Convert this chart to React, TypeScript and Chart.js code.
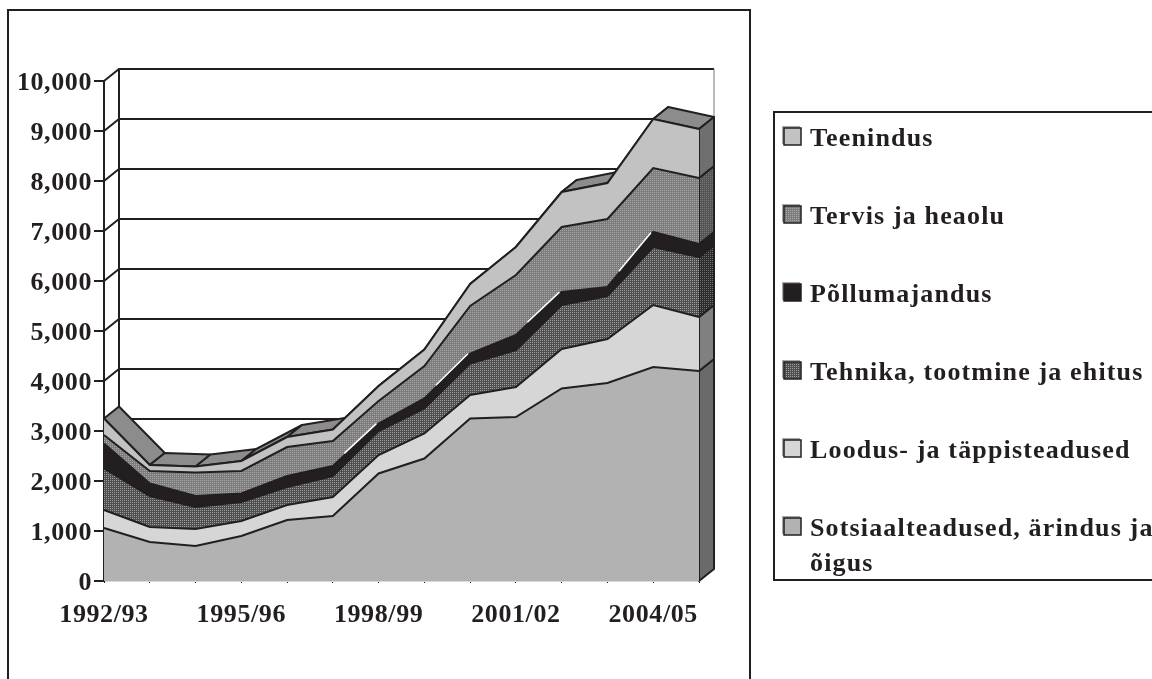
import React, { useEffect, useRef } from "react";
import { Chart, registerables } from "chart.js";

Chart.register(...registerables);

const years = ["1992/93","1993/94","1994/95","1995/96","1996/97","1997/98","1998/99","1999/00","2000/01","2001/02","2002/03","2003/04","2004/05","2005/06"];
const shownYears = ["1992/93","1995/96","1998/99","2001/02","2004/05"];
const sotsiaal = [1060,780,700,900,1220,1300,2150,2450,3250,3280,3850,3960,4280,4200];
const loodus = [360,300,340,300,300,380,370,500,470,600,790,880,1240,1080];
const tehnika = [830,620,440,380,360,420,480,500,630,740,880,860,1160,1200];
const pollumajandus = [500,250,220,170,220,200,150,200,200,300,260,180,300,260];
const tervis = [170,250,470,450,580,500,450,650,950,1200,1300,1360,1280,1320];
const teenindus = [330,120,120,200,200,230,300,330,440,560,700,720,980,980];

const C = {
  ink: "#231f20", top: "#8c8c8c", sots: "#b2b2b2", lood: "#d6d6d6", tee: "#c2c2c2",
};

function dots(dark: string, light: string, ctx: CanvasRenderingContext2D) {
  const c = document.createElement("canvas");
  c.width = 2; c.height = 2;
  const g = c.getContext("2d")!;
  g.fillStyle = dark; g.fillRect(0, 0, 2, 2);
  g.fillStyle = light; g.fillRect(0, 0, 1, 1);
  return ctx.createPattern(c, "repeat")!;
}

const DX = 15, DY = -12;

function poly(ctx: CanvasRenderingContext2D, pts: number[][], fill: any, stroke = true, lw = 2) {
  ctx.beginPath();
  pts.forEach((p, i) => (i ? ctx.lineTo(p[0], p[1]) : ctx.moveTo(p[0], p[1])));
  ctx.closePath();
  if (fill) { ctx.fillStyle = fill; ctx.fill(); }
  if (stroke) { ctx.strokeStyle = C.ink; ctx.lineWidth = lw; ctx.lineJoin = "round"; ctx.stroke(); }
}

const depth = {
  id: "depth",
  beforeDraw(chart: any) { chart.ctx.letterSpacing = "0.6px"; },
  beforeDatasetsDraw(chart: any) {
    const { ctx, scales: { x, y } } = chart;
    const l = x.left, r = x.right, b = y.getPixelForValue(0), t = y.getPixelForValue(10000);
    ctx.save();
    ctx.strokeStyle = C.ink; ctx.lineWidth = 2;
    y.ticks.forEach((tk: any) => {
      const p = y.getPixelForValue(tk.value);
      ctx.beginPath(); ctx.moveTo(l, p); ctx.lineTo(l + DX, p + DY); ctx.lineTo(r + DX, p + DY); ctx.stroke();
    });
    ctx.beginPath(); ctx.moveTo(l + DX, b + DY); ctx.lineTo(l + DX, t + DY); ctx.stroke();
    ctx.strokeStyle = "#777"; ctx.lineWidth = 1;
    ctx.beginPath(); ctx.moveTo(r + DX, t + DY); ctx.lineTo(r + DX, b + DY); ctx.stroke();

    const metas = chart.data.datasets.map((_: any, i: number) => chart.getDatasetMeta(i).data);
    const topRow = metas[metas.length - 1];
    for (let i = 0; i < topRow.length - 1; i++) {
      const a = topRow[i], c = topRow[i + 1];
      poly(ctx, [[a.x, a.y], [c.x, c.y], [c.x + DX, c.y + DY], [a.x + DX, a.y + DY]], C.top);
    }
    const sides = ["#6a6a6a", "#808080", dots("#2c2c2c", "#6e6e6e", ctx), C.ink, dots("#555", "#777", ctx), "#6f6f6f"];
    metas.forEach((row: any[], i: number) => {
      const p = row[row.length - 1];
      const lowY = i ? metas[i - 1][row.length - 1].y : b;
      poly(ctx, [[p.x, lowY], [p.x, p.y], [p.x + DX, p.y + DY], [p.x + DX, lowY + DY]], sides[i]);
    });
    ctx.restore();
  },
  afterDatasetsDraw(chart: any) {
    const { ctx } = chart;
    const row = chart.getDatasetMeta(3).data;
    ctx.save();
    ctx.strokeStyle = "#fff"; ctx.lineWidth = 1.5;
    for (let i = 0; i < row.length - 1; i++) {
      const a = row[i], c = row[i + 1];
      if (a.y - c.y >= 40) {
        ctx.beginPath();
        ctx.moveTo(a.x + (c.x - a.x) * 0.25, a.y + (c.y - a.y) * 0.25 - 2);
        ctx.lineTo(a.x + (c.x - a.x) * 0.95, a.y + (c.y - a.y) * 0.95 - 2);
        ctx.stroke();
      }
    }
    ctx.restore();
  },
  afterDraw(chart: any) {
    const { ctx } = chart;
    ctx.save();
    ctx.strokeStyle = C.ink; ctx.lineWidth = 2;
    ctx.strokeRect(8, 10, 742, 700);
    ctx.strokeRect(774, 112, 420, 468);
    ctx.font = "bold 26px 'Liberation Serif'";
    ctx.letterSpacing = "1.15px";
    ctx.textBaseline = "middle";
    ctx.textAlign = "left";
    const rows = [...chart.data.datasets].reverse();
    rows.forEach((d: any, i: number) => {
      const cy = 137 + i * 78;
      ctx.fillStyle = "#a8a8a8";
      ctx.fillRect(782, cy - 11, 18, 18);
      ctx.fillStyle = d.backgroundColor;
      ctx.fillRect(784, cy - 9, 17, 17);
      ctx.strokeStyle = C.ink; ctx.lineWidth = 1.5;
      ctx.strokeRect(784, cy - 9, 17, 17);
      ctx.fillStyle = C.ink;
      const lines = String(d.label).split("|");
      lines.forEach((s: string, k: number) => ctx.fillText(s, 810, cy + 2 + k * 35));
    });
    ctx.restore();
  },
};

const seriesNames = ["Sotsiaalteadused, ärindus ja|õigus", "Loodus- ja täppisteadused", "Tehnika, tootmine ja ehitus", "Põllumajandus", "Tervis ja heaolu", "Teenindus"];

export default function App() {
  const ref = useRef<HTMLCanvasElement>(null);
  useEffect(() => {
    const ctx = ref.current!.getContext("2d")!;
    const fills: any[] = [C.sots, C.lood, dots("#4e4e4e", "#a0a0a0", ctx), C.ink, dots("#7c7c7c", "#a8a8a8", ctx), C.tee];
    const values = [sotsiaal, loodus, tehnika, pollumajandus, tervis, teenindus];
    const chart = new Chart(ctx, {
      type: "line",
      data: {
        labels: years,
        datasets: values.map((v, i) => ({
          label: seriesNames[i],
          data: v,
          backgroundColor: fills[i],
          borderColor: C.ink,
          borderWidth: 2,
          fill: i === 0 ? "origin" : "-1",
          pointRadius: 0,
          tension: 0,
        })),
      },
      options: {
        responsive: false,
        animation: false,
        layout: { padding: { left: 0, right: 453, top: 81, bottom: 0 } },
        plugins: { legend: { display: false }, tooltip: { enabled: false }, title: { display: false } },
        scales: {
          x: {
            offset: false,
            afterFit: (s: any) => { s.height = 98; },
            grid: { drawOnChartArea: false, drawTicks: true, tickLength: 2, color: C.ink, lineWidth: 1 },
            border: { color: "#d8d8d8", width: 2 },
            ticks: {
              autoSkip: false, maxRotation: 0, minRotation: 0, padding: 17, color: C.ink,
              font: { family: "'Liberation Serif'", size: 26, weight: "bold" },
              callback(this: any, v: any) { const s = this.getLabelForValue(v); return shownYears.includes(s) ? s : ""; },
            },
          },
          y: {
            stacked: true, min: 0, max: 10000,
            afterFit: (s: any) => { s.width = 104; },
            grid: { drawOnChartArea: false, drawTicks: true, tickLength: 10, color: C.ink, lineWidth: 2 },
            border: { color: C.ink, width: 2 },
            ticks: {
              stepSize: 1000, padding: 2, color: C.ink,
              font: { family: "'Liberation Serif'", size: 26, weight: "bold", lineHeight: "4px" },
              callback: (v: any) => ["", Number(v).toLocaleString("en-US")],
            },
          },
        },
      },
      plugins: [depth],
    } as any);
    return () => chart.destroy();
  }, []);
  return <canvas ref={ref} width={1152} height={679} style={{ position: "fixed", left: 0, top: 0, display: "block", background: "#fff" }} />;
}
